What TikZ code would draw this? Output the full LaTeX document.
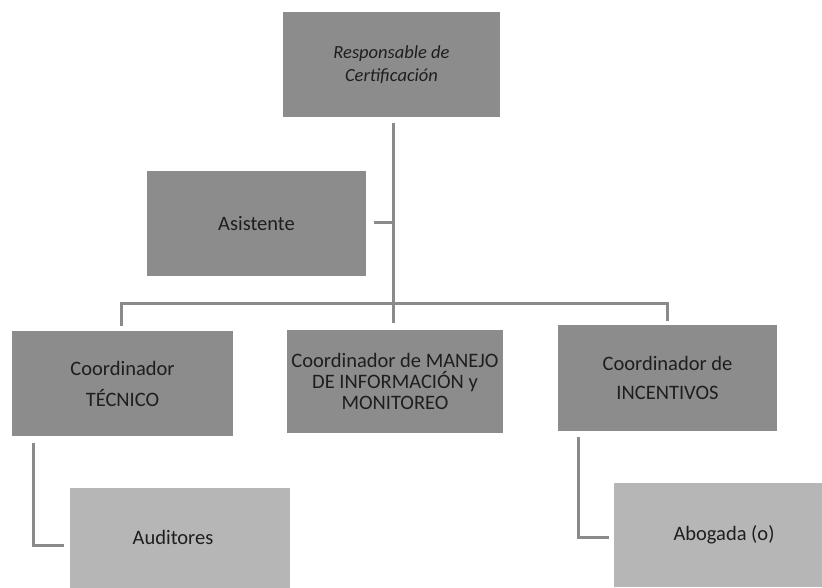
\documentclass[tikz,border=0pt]{standalone}
\usepackage{fontspec}
\setmainfont{Carlito}
\definecolor{darkbox}{HTML}{8C8C8C}
\definecolor{lightbox}{HTML}{B6B6B6}
\definecolor{linecol}{HTML}{8A8A8A}
\definecolor{txt}{HTML}{1E1E1E}
\begin{document}
\begin{tikzpicture}[x=1pt,y=-1pt,
  box/.style={draw=none,fill=darkbox,text=txt,align=center,inner sep=0pt,font=\fontsize{20.5}{21}\selectfont},
  lbox/.style={box,fill=lightbox},
  conn/.style={draw=linecol,line width=3pt}]
\useasboundingbox (0,0) rectangle (822,587);
\fill[white] (0,0) rectangle (822,587);
% boxes
\node[box,minimum width=217pt,minimum height=105pt,font=\fontsize{18.5}{23}\selectfont\itshape] (resp) at (391.5,64.5) {\rule{0pt}{6pt}Responsable de\\Certificación};
\node[box,minimum width=219pt,minimum height=105pt] (asis) at (256.5,223.5) {Asistente};
\node[box,minimum width=221pt,minimum height=105pt,font=\fontsize{20.5}{31}\selectfont] (tec) at (122.5,383.5) {Coordinador\\TÉCNICO};
\node[box,minimum width=216pt,minimum height=103pt] (man) at (395,381.5) {Coordinador de MANEJO\\DE INFORMACIÓN y\\MONITOREO};
\node[box,minimum width=219pt,minimum height=106pt,font=\fontsize{20.5}{29}\selectfont] (inc) at (667.5,378) {Coordinador de\\INCENTIVOS};
\node[lbox,minimum width=220pt,minimum height=100pt] (aud) at (180,537.5) {\hspace*{-14pt}Auditores};
\node[lbox,minimum width=208pt,minimum height=104pt] (abo) at (718,535) {\hspace*{12pt}Abogada (o)};
% coordinates
\coordinate (top) at (393,123);
\coordinate (mid) at (393,303);
\coordinate (asisR) at (374,222);
\coordinate (asisJ) at (393,222);
\coordinate (lbar) at (121,303);
\coordinate (rbar) at (667,303);
\coordinate (ldrop) at (121,326);
\coordinate (mdrop) at (393,323);
\coordinate (rdrop) at (667,321);
\coordinate (t1) at (33,443);
\coordinate (t2) at (33,545);
\coordinate (t3) at (64,545);
\coordinate (i1) at (578,437);
\coordinate (i2) at (578,537);
\coordinate (i3) at (609,537);
% connectors
\draw[conn] (top) -- (mdrop);
\draw[conn] (asisR) -- (asisJ);
\draw[conn] (ldrop) -- (lbar) -- (rbar) -- (rdrop);
\draw[conn] (t1) -- (t2) -- (t3);
\draw[conn] (i1) -- (i2) -- (i3);
\end{tikzpicture}
\end{document}
